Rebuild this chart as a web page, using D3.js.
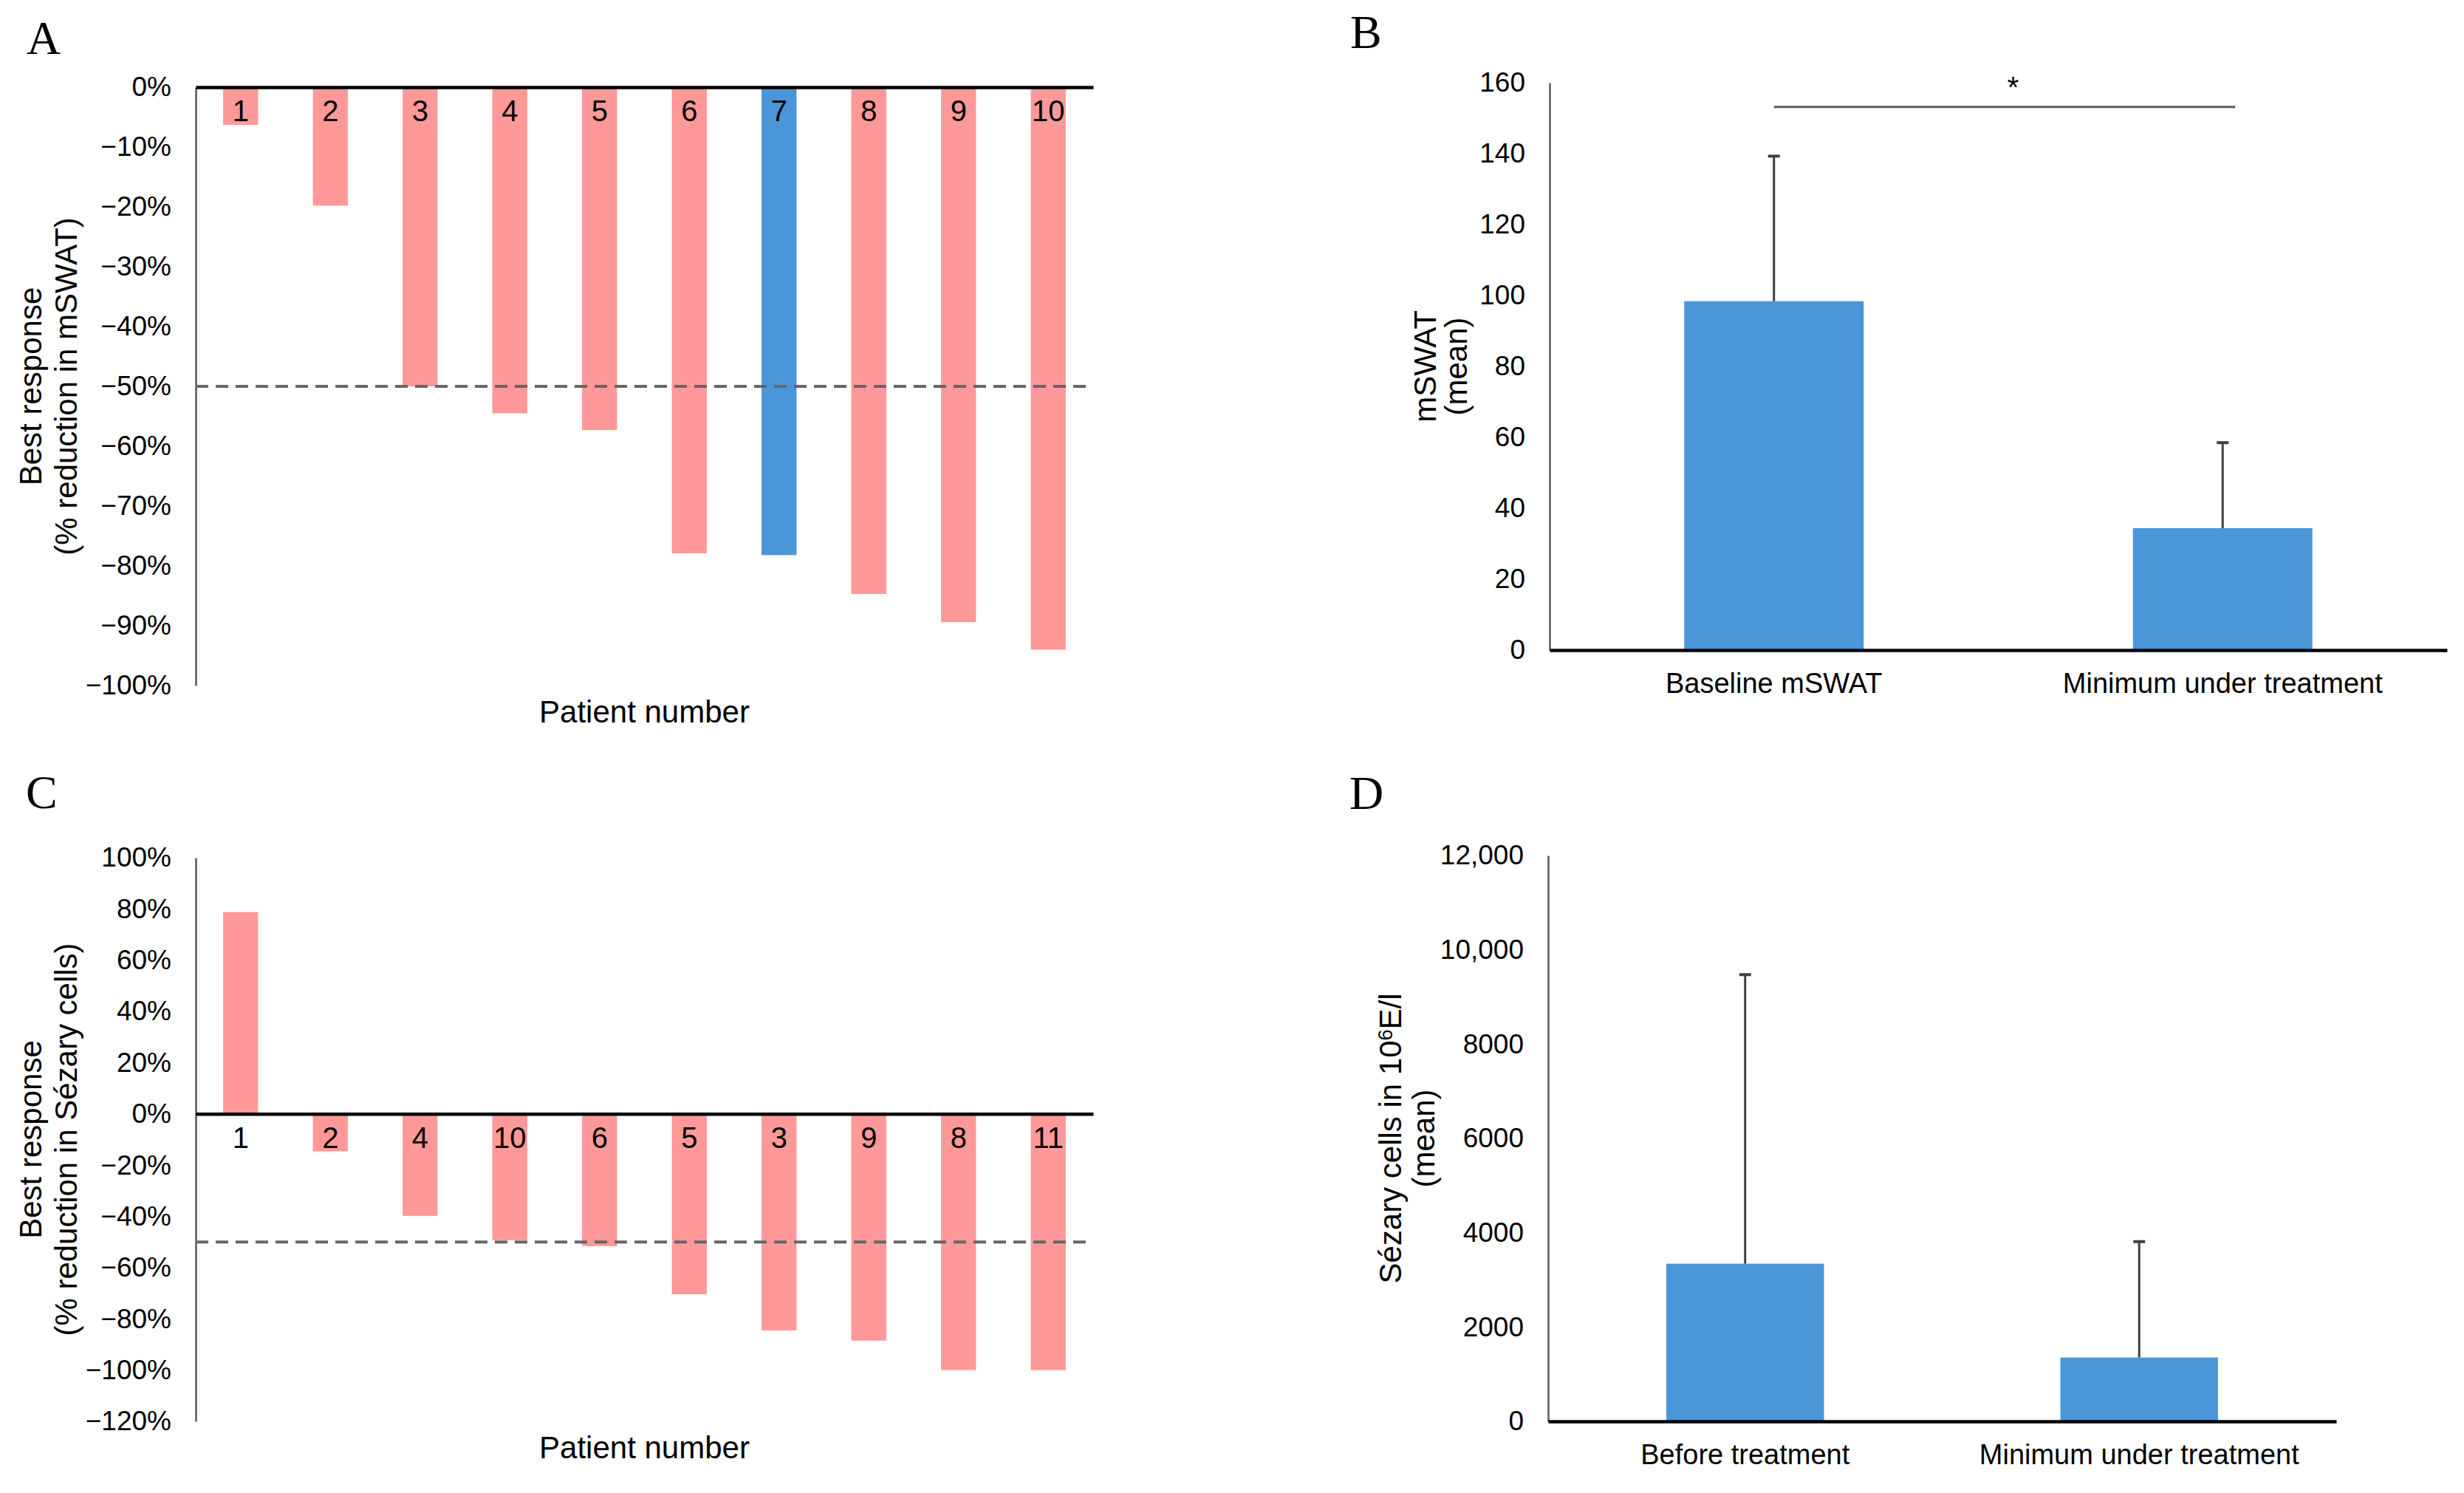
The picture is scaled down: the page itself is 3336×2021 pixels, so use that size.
<!DOCTYPE html>
<html>
<head>
<meta charset="utf-8">
<script src="https://d3js.org/d3.v7.min.js"></script>
<style>
body { margin:0; background:#fff; }
text { font-family: "Liberation Sans", Arial, sans-serif; fill:#000; }
</style>
</head>
<body>
<script>

// A: best response in mSWAT, per patient
var patientsA = ["1","2","3","4","5","6","7","8","9","10"]
var responseA = [-6.3,-19.8,-50,-54.5,-57.3,-77.9,-78.2,-84.7,-89.4,-94]
var highlightA = ["7"]
var ticksA = [0,-10,-20,-30,-40,-50,-60,-70,-80,-90,-100]

// B: mean mSWAT
var groupsB = ["Baseline mSWAT","Minimum under treatment"]
var meanB = [98.4,34.4]
var sdB = [40.9,24.1]
var ticksB = [0,20,40,60,80,100,120,140,160]

// C: best response in Sezary cells, per patient
var patientsC = ["1","2","4","10","6","5","3","9","8","11"]
var responseC = [78.8,-14.6,-39.8,-49.3,-51.6,-70.4,-84.5,-88.5,-100,-100]
var ticksC = [100,80,60,40,20,0,-20,-40,-60,-80,-100,-120]

// D: mean Sezary cells
var groupsD = ["Before treatment","Minimum under treatment"]
var meanD = [3343,1353]
var sdD = [6130,2458]
var ticksD = [0,2000,4000,6000,8000,10000,12000]
var tickLabelsD = ["0","2000","4000","6000","8000","10,000","12,000"]

var pink = "#ff9999"
var blue = "#4a96d9"
var tickFont = 37

var svg = d3.select("body").append("svg")
            .attr("width",3336)
            .attr("height",2021)

svg.append("rect").attr("width",3336).attr("height",2021).style("fill","white")

function panelLetter(letter, x, y){
	svg.append("text")
	   .attr("x",x).attr("y",y)
	   .style("font-family","'Liberation Serif', 'Times New Roman', serif")
	   .style("font-size","64px")
	   .text(letter)
}

function styleYAxis(g){
	g.select(".domain").style("stroke","#595959").style("stroke-width",2.5)
	g.selectAll("text").style("font-size",tickFont+"px").style("font-family","'Liberation Sans', Arial, sans-serif").attr("fill","#000")
}

function yTitle(lines, xs, cy, size){
	lines.forEach(function(l,i){
		var t = svg.append("text")
		   .attr("transform","translate("+xs[i]+","+cy+") rotate(-90)")
		   .attr("text-anchor","middle")
		   .style("font-size",size+"px")
		if (typeof l === "string") t.text(l)
		else l(t)
	})
}

function waterfall(o){
	var x = d3.scaleBand().domain(o.patients).range([o.left,o.right]).paddingInner(0.61).paddingOuter(0.305)
	var y = d3.scaleLinear().domain(o.domain).range([o.bottom,o.top])

	var yAxis = svg.append("g")
	   .attr("transform","translate("+o.left+",0)")
	   .call(d3.axisLeft(y).tickValues(o.ticks).tickSize(0).tickSizeOuter(0).tickPadding(33)
	          .tickFormat(function(d){ return d3.format("d")(d)+"%" }))
	styleYAxis(yAxis)

	svg.selectAll(null).data(o.patients).enter().append("rect")
	   .attr("x",function(d){ return x(d) })
	   .attr("width",x.bandwidth())
	   .attr("y",function(d,i){ return y(Math.max(0,o.values[i])) })
	   .attr("height",function(d,i){ return Math.abs(y(o.values[i])-y(0)) })
	   .style("fill",function(d){ return o.highlight.indexOf(d)>=0 ? blue : pink })

	// zero line with patient numbers just under it
	var xAxis = svg.append("g")
	   .attr("transform","translate(0,"+y(0)+")")
	   .call(d3.axisBottom(x).tickSize(0).tickSizeOuter(0).tickPadding(32))
	xAxis.select(".domain").style("stroke","#000").style("stroke-width",4.5)
	xAxis.selectAll("text").attr("dy","0.35em").style("font-size","40px").style("font-family","'Liberation Sans', Arial, sans-serif").attr("fill","#000")

	svg.append("line")
	   .attr("x1",o.left).attr("x2",o.right)
	   .attr("y1",y(o.dashAt)).attr("y2",y(o.dashAt))
	   .style("stroke","#666").style("stroke-width",4).style("stroke-dasharray","17,10")

	svg.append("text")
	   .attr("x",(o.left+o.right)/2).attr("y",o.bottom+50)
	   .attr("text-anchor","middle")
	   .style("font-size","42px")
	   .text("Patient number")

	yTitle(o.title, o.titleX, (o.top+o.bottom)/2, 42)
}

function meanBars(o){
	var x = d3.scaleBand().domain(o.groups).range([o.left,o.right]).paddingInner(0.6).paddingOuter(0.3)
	var y = d3.scaleLinear().domain([0,o.max]).range([o.bottom,o.top])

	var yAxis = svg.append("g")
	   .attr("transform","translate("+o.left+",0)")
	   .call(d3.axisLeft(y).tickValues(o.ticks).tickSize(0).tickSizeOuter(0).tickPadding(33)
	          .tickFormat(function(d,i){ return o.tickLabels ? o.tickLabels[i] : d }))
	styleYAxis(yAxis)

	svg.selectAll(null).data(o.groups).enter().append("rect")
	   .attr("x",function(d){ return x(d) })
	   .attr("width",x.bandwidth())
	   .attr("y",function(d,i){ return y(o.mean[i]) })
	   .attr("height",function(d,i){ return y(0)-y(o.mean[i]) })
	   .style("fill",blue)

	// upper error bars
	var err = svg.selectAll(null).data(o.groups).enter().append("g")
	err.append("line")
	   .attr("x1",function(d){ return x(d)+x.bandwidth()/2 })
	   .attr("x2",function(d){ return x(d)+x.bandwidth()/2 })
	   .attr("y1",function(d,i){ return y(o.mean[i]) })
	   .attr("y2",function(d,i){ return y(o.mean[i]+o.sd[i]) })
	   .style("stroke","#404040").style("stroke-width",3)
	err.append("line")
	   .attr("x1",function(d){ return x(d)+x.bandwidth()/2-8 })
	   .attr("x2",function(d){ return x(d)+x.bandwidth()/2+8 })
	   .attr("y1",function(d,i){ return y(o.mean[i]+o.sd[i]) })
	   .attr("y2",function(d,i){ return y(o.mean[i]+o.sd[i]) })
	   .style("stroke","#404040").style("stroke-width",4)

	var xAxis = svg.append("g")
	   .attr("transform","translate(0,"+y(0)+")")
	   .call(d3.axisBottom(x).tickSize(0).tickSizeOuter(0).tickPadding(31))
	xAxis.select(".domain").style("stroke","#000").style("stroke-width",4.5)
	xAxis.selectAll("text").style("font-size","38px").style("font-family","'Liberation Sans', Arial, sans-serif").attr("fill","#000")

	yTitle(o.title, o.titleX, (o.top+o.bottom)/2, 42)
	return {x:x, y:y}
}

panelLetter("A",36,73)
waterfall({patients:patientsA, values:responseA, highlight:highlightA, ticks:ticksA,
	domain:[-100,0], left:265, right:1480, top:118, bottom:928, dashAt:-50,
	title:["Best response","(% reduction in mSWAT)"], titleX:[56,104]})

panelLetter("B",1828,65)
var b = meanBars({groups:groupsB, mean:meanB, sd:sdB, ticks:ticksB, max:160,
	left:2098, right:3313, top:112, bottom:880,
	title:["mSWAT","(mean)"], titleX:[1944,1986]})

// significance bar between the two groups
var sigY = b.y(153.2)
var cx1 = b.x(groupsB[0])+b.x.bandwidth()/2
var cx2 = b.x(groupsB[1])+b.x.bandwidth()/2
svg.append("line")
   .attr("x1",cx1).attr("x2",cx2+17)
   .attr("y1",sigY).attr("y2",sigY)
   .style("stroke","#595959").style("stroke-width",3)
svg.append("text")
   .attr("x",(cx1+cx2)/2+20).attr("y",sigY-13)
   .attr("text-anchor","middle")
   .style("font-size","40px")
   .text("*")

panelLetter("C",35,1094)
waterfall({patients:patientsC, values:responseC, highlight:[], ticks:ticksC,
	domain:[-120,100], left:265, right:1480, top:1161, bottom:1924, dashAt:-50,
	title:["Best response","(% reduction in Sézary cells)"], titleX:[56,104]})

panelLetter("D",1827,1095)
meanBars({groups:groupsD, mean:meanD, sd:sdD, ticks:ticksD, tickLabels:tickLabelsD, max:12000,
	left:2096, right:3163, top:1158, bottom:1924,
	title:[function(t){
		t.append("tspan").text("Sézary cells in 10")
		t.append("tspan").attr("dy","-0.45em").style("font-size","27px").text("6")
		t.append("tspan").attr("dy","0.3em").text("E/l")
	},"(mean)"], titleX:[1897,1942]})

</script>
</body>
</html>
